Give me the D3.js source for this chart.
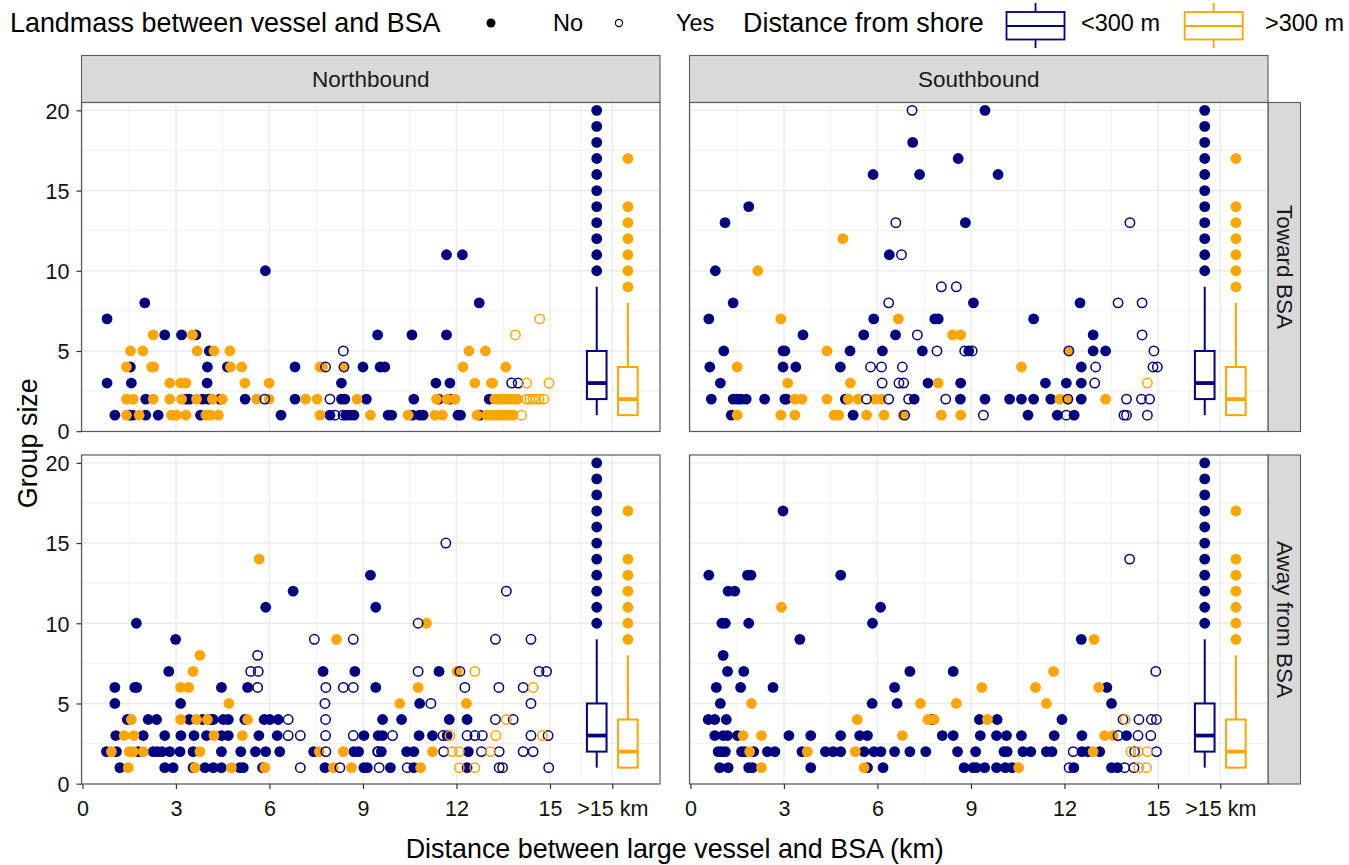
<!DOCTYPE html>
<html><head><meta charset="utf-8">
<script src="https://cdn.jsdelivr.net/npm/d3@7"></script>
<style>body{margin:0;background:#fff}svg{display:block;font-family:"Liberation Sans",Arial,sans-serif}</style>
</head><body><svg id="c" width="1349" height="865"></svg>
<script>
// ---------- data ----------
const xBreaks = [0,3,6,9,12,15,17];
const xLabels = ["0","3","6","9","12","15",">15 km"];
const xMinor = [1.5,4.5,7.5,10.5,13.5,16];
const yBreaks = [0,5,10,15,20];
const yMinor = [2.5,7.5,12.5,17.5];
const directions = ["Northbound","Southbound"];
const headings = ["Toward BSA","Away from BSA"];
const shoreLevels = ["<300 m",">300 m"];
const landLevels = ["No","Yes"];
const shoreColors = ["#000080","#FFA500"];
// boxplots for >15 km (identical in every panel): whisker low, q1, median, q3, whisker high
const boxX = [16.5, 17.5];
const boxStats = [[1,2,3,5,9],[1,1,2,4,8]];
const boxOutliers = [[10,11,12,13,14,15,16,17,18,19,20],[9,10,11,12,13,14,17]];
// points: [distance km, group size, shore (0 <300 m, 1 >300 m), landmass (0 No, 1 Yes)]
const nbToward = [
[0.79,7,0,0],[2.0,8,0,0],[5.87,10,0,0],
[2.27,6,1,0],[2.64,6,0,0],[3.18,6,0,0],[3.53,6,1,0],[3.64,6,0,0],[9.47,6,0,0],
[1.54,5,1,0],[1.94,5,1,0],[3.68,5,1,0],[4.07,5,0,0],[4.22,5,1,0],[4.73,5,1,0],[8.37,5,0,1],
[1.41,4,1,0],[1.54,4,0,0],[2.22,4,1,0],[2.29,4,1,0],[4.01,4,0,0],[4.65,4,0,0],[4.75,4,1,0],[5.11,4,1,0],[6.82,4,0,0],[7.62,4,1,0],[7.7,4,1,0],[7.8,4,0,1],[8.39,4,1,0],[8.39,4,0,1],[9.0,4,0,0],[9.55,4,0,0],[9.7,4,0,0],
[0.79,3,0,0],[1.57,3,0,0],[2.8,3,1,0],[3.15,3,1,0],[3.32,3,1,0],[4.0,3,0,0],[5.21,3,1,0],[5.99,3,1,0],[8.31,3,0,0],
[1.41,2,1,0],[1.63,2,1,0],[2.03,2,0,0],[2.27,2,1,0],[2.8,2,1,0],[3.18,2,1,0],[3.32,2,0,0],[3.43,2,0,0],[3.66,2,1,0],[3.85,2,0,0],[4.03,2,0,0],[4.17,2,1,0],[4.41,2,0,0],[4.49,2,1,0],[5.22,2,0,0],[5.59,2,1,0],[5.85,2,0,1],[5.99,2,1,0],[6.82,2,0,0],[7.16,2,1,0],[7.53,2,1,0],[7.94,2,0,1],[8.31,2,0,0],[8.42,2,0,0],[8.81,2,1,0],[9.11,2,0,0],
[1.04,1,0,0],[1.41,1,1,0],[1.52,1,0,0],[1.61,1,0,0],[1.82,1,1,0],[2.03,1,0,0],[2.43,1,0,0],[2.86,1,1,0],[3.02,1,1,0],[3.32,1,1,0],[3.79,1,0,0],[3.96,1,1,0],[4.11,1,1,0],[4.36,1,1,0],[6.37,1,0,0],[7.62,1,1,0],[7.94,1,0,0],[8.1,1,0,1],[8.36,1,0,1],[8.45,1,0,0],[8.58,1,0,0],[8.71,1,0,0],[9.24,1,1,0],
[11.68,11,0,0],[12.19,11,0,0],[12.73,8,0,0],[14.67,7,1,1],[13.89,6,1,1],
[10.57,6,0,0],[11.68,6,0,0],
[12.4,5,1,0],[12.93,5,1,0],
[12.21,4,1,0],[13.58,4,1,0],
[11.34,3,0,0],[11.79,3,0,0],[12.59,3,1,0],[13.12,3,1,0],[13.16,3,1,0],[13.77,3,0,1],[13.98,3,0,1],[14.25,3,1,1],[14.97,3,1,1],
[10.63,2,0,0],[11.36,2,1,0],[11.43,2,0,0],[11.7,2,1,0],[11.79,2,0,0],[11.95,2,1,0],[13.05,2,0,0],[13.23,2,1,0],[13.35,2,1,0],[13.5,2,1,0],[13.65,2,1,0],[13.8,2,1,0],[13.95,2,1,0],[14.25,2,1,1],[14.35,2,1,1],[14.45,2,1,1],[14.55,2,1,1],[14.65,2,1,1],[14.8,2,1,1],
[9.81,1,0,0],[9.92,1,0,0],[10.45,1,1,0],[10.59,1,0,0],[10.82,1,0,0],[10.93,1,0,0],[11.31,1,1,0],[11.55,1,1,0],[12.05,1,0,0],[12.13,1,0,0],[12.66,1,1,0],[12.75,1,0,0],[12.97,1,1,0],[13.1,1,1,0],[13.25,1,1,0],[13.4,1,1,0],[13.55,1,1,0],[13.7,1,1,0],[13.82,1,1,0],[14.09,1,1,1]
];
const sbToward = [
[7.11,20,0,1],[9.45,20,0,0],[7.13,18,0,0],[8.59,17,0,0],[5.86,16,0,0],[7.35,16,0,0],[9.87,16,0,0],[1.87,14,0,0],[1.11,13,0,0],[6.59,13,0,1],[8.82,13,0,0],[14.1,13,0,1],[4.89,12,1,0],[6.38,11,0,0],[6.77,11,0,1],[0.8,10,0,0],[2.16,10,1,0],[8.05,9,0,1],[8.53,9,0,1],
[1.37,8,0,0],[6.36,8,0,1],[9.08,8,0,0],[12.5,8,0,0],[13.72,8,0,1],[14.49,8,0,1],
[0.59,7,0,0],[2.9,7,1,0],[5.88,7,0,0],[6.67,7,1,0],[7.84,7,0,0],[7.95,7,0,0],[11.01,7,0,0],
[3.61,6,0,0],[5.56,6,0,0],[6.58,6,0,0],[7.28,6,0,1],[8.41,6,1,0],[8.67,6,1,0],[12.92,6,0,0],[14.49,6,0,1],
[1.07,5,0,0],[2.97,5,0,0],[3.03,5,0,0],[4.38,5,1,0],[5.12,5,0,0],[6.16,5,0,0],[7.44,5,0,0],[7.91,5,0,1],[8.8,5,0,1],[8.93,5,0,0],[9.04,5,0,1],[12.14,5,1,0],[12.14,5,0,1],[12.92,5,0,0],[13.32,5,0,0],[14.87,5,0,1],
[0.62,4,0,0],[1.5,4,1,0],[2.97,4,0,0],[3.38,4,0,0],[4.81,4,0,0],[5.78,4,0,1],[6.13,4,0,1],[6.8,4,0,1],[10.62,4,1,0],[12.54,4,0,0],[13.0,4,0,1],[14.84,4,0,1],[14.98,4,0,1],
[0.96,3,0,0],[3.12,3,1,0],[5.13,3,1,0],[6.15,3,0,1],[6.69,3,0,1],[6.84,3,0,1],[7.62,3,0,0],[7.95,3,1,0],[8.67,3,0,0],[11.39,3,0,0],[12.06,3,0,0],[12.54,3,0,0],[12.97,3,0,1],[14.66,3,1,1],
[0.67,2,0,0],[1.37,2,0,0],[1.5,2,0,0],[1.62,2,0,0],[1.79,2,0,0],[2.38,2,0,0],[3.03,2,0,0],[3.08,2,0,0],[3.35,2,1,0],[3.58,2,1,0],[4.38,2,1,0],[4.97,2,0,0],[5.06,2,1,0],[5.38,2,1,0],[5.65,2,0,1],[5.91,2,1,0],[6.13,2,1,0],[6.36,2,0,1],[7.0,2,0,1],[7.18,2,0,0],[8.19,2,0,1],[8.66,2,0,0],[9.45,2,0,0],[10.24,2,0,0],[10.62,2,0,0],[11.01,2,0,0],[11.56,2,0,0],[11.85,2,1,0],[12.11,2,1,0],[12.11,2,0,1],[12.54,2,0,0],[13.32,2,1,0],[13.99,2,0,1],[14.47,2,0,1],[14.73,2,0,1],
[1.31,1,0,0],[1.5,1,1,0],[2.9,1,1,0],[3.35,1,1,0],[4.61,1,1,0],[4.76,1,1,0],[5.22,1,0,0],[5.65,1,1,0],[6.21,1,1,0],[6.82,1,1,0],[6.87,1,0,1],[8.05,1,1,0],[8.67,1,1,0],[9.4,1,0,1],[10.83,1,0,0],[11.77,1,0,0],[12.06,1,0,1],[12.31,1,0,0],[13.91,1,0,1],[13.99,1,0,1],[14.66,1,0,1]
];
const nbAway = [
[5.67,14,1,0],[9.24,13,0,0],[6.76,12,0,0],[5.88,11,0,0],[9.41,11,0,0],[1.73,10,0,0],
[2.99,9,0,0],[7.44,9,0,1],[8.15,9,1,0],[8.69,9,0,1],
[3.77,8,1,0],[5.62,8,0,1],
[2.77,7,0,0],[3.55,7,1,0],[5.4,7,0,1],[5.64,7,0,1],[7.72,7,0,0],[8.74,7,0,0],
[1.04,6,0,0],[1.68,6,0,0],[1.74,6,0,0],[3.15,6,1,0],[3.41,6,1,0],[4.46,6,0,0],[5.3,6,0,0],[5.62,6,0,1],[7.81,6,0,1],[8.37,6,0,1],[8.69,6,0,1],[9.41,6,0,0],
[1.04,5,0,0],[3.15,5,0,0],[4.7,5,1,0],[7.78,5,0,1],
[1.44,4,0,0],[1.57,4,1,0],[2.11,4,0,0],[2.38,4,0,0],[3.15,4,1,0],[3.43,4,0,0],[3.66,4,1,0],[3.85,4,0,0],[4.01,4,1,0],[4.12,4,0,0],[4.2,4,0,0],[4.52,4,0,0],[4.68,4,0,0],[5.21,4,0,0],[5.3,4,1,0],[5.83,4,0,0],[6.01,4,0,0],[6.28,4,0,0],[6.6,4,0,1],[7.8,4,0,1],
[1.07,3,0,0],[1.34,3,1,0],[1.65,3,1,0],[1.95,3,0,0],[2.64,3,0,0],[3.16,3,0,0],[3.58,3,0,0],[3.98,3,0,0],[4.22,3,1,0],[4.46,3,0,0],[4.68,3,0,0],[5.13,3,1,0],[5.66,3,0,0],[6.25,3,0,0],[6.6,3,0,1],[6.99,3,0,1],[7.8,3,0,1],[8.69,3,0,1],[9.03,3,0,0],[9.49,3,0,0],
[0.77,2,0,0],[0.93,2,1,0],[1.09,2,0,0],[1.5,2,1,0],[1.63,2,1,0],[1.79,2,0,0],[1.95,2,1,0],[2.27,2,0,0],[2.4,2,0,0],[2.55,2,0,0],[2.8,2,0,0],[3.13,2,0,0],[3.55,2,0,0],[3.77,2,1,0],[4.46,2,0,0],[5.08,2,0,0],[5.55,2,0,0],[5.88,2,0,0],[6.33,2,0,0],[7.42,2,0,0],[7.6,2,1,0],[7.81,2,0,1],[8.37,2,1,0],[8.71,2,0,0],[8.86,2,0,0],[9.47,2,0,1],
[1.2,1,0,0],[1.47,1,1,0],[2.64,1,0,0],[2.91,1,0,0],[3.55,1,0,0],[3.61,1,1,0],[3.93,1,0,0],[4.2,1,0,0],[4.46,1,0,0],[4.78,1,1,0],[5.05,1,0,0],[5.16,1,0,0],[5.78,1,0,0],[5.85,1,1,0],[6.99,1,0,1],[7.78,1,0,0],[8.05,1,1,0],[8.26,1,0,1],[8.63,1,1,0],[9.03,1,0,0],[9.14,1,0,0],
[11.66,15,0,1],[13.6,12,0,1],[10.77,10,0,1],[11.04,10,1,0],[13.25,9,0,1],[14.39,9,0,1],
[10.77,7,0,1],[11.44,7,0,0],[12.02,7,1,0],[12.11,7,0,1],[12.59,7,1,1],[14.65,7,0,1],[14.89,7,0,1],
[10.77,6,1,0],[12.27,6,0,1],[13.36,6,0,1],[14.14,6,0,1],[14.46,6,1,1],
[10.18,5,1,0],[10.82,5,0,0],[11.18,5,0,1],[12.32,5,1,0],[14.39,5,0,1],
[9.63,4,0,0],[10.24,4,0,0],[11.77,4,0,0],[12.34,4,0,0],[13.25,4,0,1],[13.6,4,1,1],[13.82,4,0,1],
[9.63,3,0,0],[9.95,3,0,1],[10.8,3,0,0],[11.23,3,0,0],[11.57,3,0,1],[11.7,3,0,0],[11.79,3,1,1],[12.34,3,0,1],[12.59,3,0,1],[12.83,3,0,1],[13.26,3,1,1],[14.39,3,0,1],[14.76,3,1,1],[14.94,3,0,1],
[9.49,2,0,1],[9.59,2,0,0],[10.4,2,0,0],[10.63,2,0,0],[11.23,2,1,0],[11.59,2,0,1],[11.87,2,1,1],[12.09,2,1,1],[12.38,2,0,0],[12.8,2,0,1],[13.09,2,1,1],[13.37,2,0,1],[14.14,2,0,1],[14.46,2,0,1],
[9.52,1,0,1],[9.88,1,0,0],[10.42,1,0,1],[10.63,1,0,0],[10.85,1,1,0],[12.09,1,1,1],[12.34,1,0,0],[12.59,1,1,1],[13.37,1,0,1],[13.48,1,0,1],[14.96,1,0,1]
];
const sbAway = [
[2.97,17,0,0],[14.09,14,0,1],
[0.59,13,0,0],[1.83,13,0,0],[1.94,13,0,0],[4.82,13,0,0],
[1.21,12,0,0],[1.42,12,0,0],
[2.92,11,1,0],[6.1,11,0,0],
[1.01,10,0,0],[1.12,10,0,0],[1.87,10,0,0],[5.84,10,0,0],
[3.51,9,0,0],[12.54,9,0,0],[12.95,9,1,0],
[1.05,8,0,0],
[1.19,7,0,0],[1.71,7,0,0],[7.04,7,0,0],[8.43,7,0,0],[11.65,7,1,0],[14.93,7,0,1],
[0.83,6,0,0],[1.61,6,0,0],[2.65,6,0,0],[6.55,6,0,0],[9.35,6,1,0],[11.07,6,1,0],[13.1,6,1,0],[13.36,6,0,0],
[0.96,5,0,0],[1.96,5,1,0],[5.83,5,0,0],[6.63,5,0,0],[7.38,5,1,0],[8.53,5,1,0],[11.42,5,1,0],[13.51,5,0,0],
[0.57,4,0,0],[0.78,4,0,0],[1.15,4,0,0],[5.35,4,1,0],[7.62,4,1,0],[7.75,4,0,0],[7.82,4,1,0],[9.27,4,0,0],[9.53,4,1,0],[9.84,4,0,0],[11.92,4,0,0],[13.88,4,0,1],[13.95,4,1,1],[14.39,4,0,1],[14.79,4,0,1],[14.95,4,0,1],
[0.78,3,0,0],[1.05,3,0,0],[1.19,3,0,0],[1.51,3,0,0],[1.69,3,1,0],[2.28,3,1,0],[3.16,3,0,0],[3.86,3,0,0],[4.82,3,0,0],[5.43,3,0,0],[5.68,3,0,0],[6.8,3,1,0],[8.08,3,0,0],[8.43,3,0,0],[9.3,3,0,0],[9.82,3,0,0],[10.14,3,0,0],[10.62,3,0,0],[11.67,3,0,0],[12.56,3,0,0],[13.29,3,1,0],[13.56,3,1,0],[13.72,3,0,1],[13.99,3,0,0],[14.36,3,0,1],[14.77,3,0,1],
[0.89,2,0,0],[1.0,2,0,0],[1.12,2,0,0],[1.64,2,0,0],[1.74,2,0,0],[1.9,2,1,0],[2.03,2,0,0],[2.47,2,0,0],[2.71,2,0,0],[3.58,2,0,0],[3.75,2,1,0],[4.33,2,0,0],[4.58,2,0,0],[4.82,2,0,0],[5.29,2,1,0],[5.57,2,0,0],[5.89,2,0,0],[6.11,2,0,0],[6.55,2,0,0],[7.04,2,0,0],[7.55,2,0,0],[8.57,2,0,0],[9.15,2,0,0],[10.06,2,0,0],[10.16,2,0,0],[10.67,2,0,0],[10.92,2,0,0],[11.42,2,0,0],[11.6,2,0,0],[12.28,2,0,1],[12.56,2,0,0],[12.76,2,0,0],[12.92,2,1,0],[13.13,2,0,0],[14.13,2,1,1],[14.25,2,0,1],[14.36,2,1,1],[14.66,2,1,1],[14.95,2,0,1],
[0.94,1,0,0],[1.21,1,0,0],[1.87,1,0,0],[1.99,1,0,0],[2.28,1,1,0],[3.86,1,0,0],[5.57,1,1,0],[5.68,1,0,0],[6.18,1,0,0],[8.78,1,0,0],[9.07,1,0,0],[9.17,1,0,0],[9.44,1,0,0],[9.82,1,0,0],[10.1,1,0,0],[10.32,1,0,0],[10.53,1,1,0],[12.15,1,0,1],[12.3,1,0,0],[13.51,1,0,0],[13.7,1,0,0],[13.93,1,0,1],[14.23,1,0,1],[14.38,1,1,1],[14.63,1,1,1]
];
const panelData = [[nbToward, sbToward],[nbAway, sbAway]];

// ---------- layout ----------
const svg = d3.select("#c");
const panelW = 578.5, panelH = 329;
const colX = [81.5, 689.5];
const rowY = [102.5, 455];
const stripTop = 55.5, stripRightW = 32.5;
const x = d3.scaleLinear().domain([-0.03, 18.53]).range([0, panelW]);
const y = d3.scaleLinear().domain([-0.02, 20.49]).range([panelH, 0]);
const fsTick = 21.5, fsStrip = 22.5, fsTitle = 26.9, fsLegend = 23.5;
const gridCol = "#EBEBEB", borderCol = "#5a5a5a";

svg.append("rect").attr("width",1349).attr("height",865).attr("fill","#fff");

// strips on top
directions.forEach((d,c)=>{
  svg.append("rect").attr("x",colX[c]).attr("y",stripTop).attr("width",panelW).attr("height",rowY[0]-stripTop)
    .attr("fill","#D9D9D9").attr("stroke",borderCol).attr("stroke-width",1.1);
  svg.append("text").attr("x",colX[c]+panelW/2).attr("y",(stripTop+rowY[0])/2)
    .attr("text-anchor","middle").attr("dominant-baseline","central")
    .attr("font-size",fsStrip).attr("fill","#1A1A1A").text(d);
});
// strips on right
headings.forEach((h,r)=>{
  const sx = colX[1]+panelW;
  svg.append("rect").attr("x",sx).attr("y",rowY[r]).attr("width",stripRightW).attr("height",panelH)
    .attr("fill","#D9D9D9").attr("stroke",borderCol).attr("stroke-width",1.1);
  svg.append("text").attr("transform",`translate(${sx+stripRightW/2},${rowY[r]+panelH/2}) rotate(90)`)
    .attr("text-anchor","middle").attr("dominant-baseline","central")
    .attr("font-size",fsStrip).attr("fill","#1A1A1A").text(h);
});

function drawBoxes(g){
  const hw = (x(0.63)-x(0))/2;
  boxStats.forEach((s,i)=>{
    const cx = x(boxX[i]), col = shoreColors[i];
    const bg = g.append("g").attr("stroke",col).attr("stroke-width",2).attr("fill","none");
    bg.append("line").attr("x1",cx).attr("x2",cx).attr("y1",y(s[0])).attr("y2",y(s[1]));
    bg.append("line").attr("x1",cx).attr("x2",cx).attr("y1",y(s[3])).attr("y2",y(s[4]));
    bg.append("rect").attr("x",cx-hw).attr("width",2*hw).attr("y",y(s[3])).attr("height",y(s[1])-y(s[3])).attr("fill","#fff");
    bg.append("line").attr("x1",cx-hw).attr("x2",cx+hw).attr("y1",y(s[2])).attr("y2",y(s[2])).attr("stroke-width",3.8);
    g.selectAll(null).data(boxOutliers[i]).enter().append("circle")
      .attr("cx",cx).attr("cy",d=>y(d)).attr("r",5.4).attr("fill",col);
  });
}

function drawPoints(g, data){
  [[0,0],[1,0],[0,1],[1,1]].forEach(([s,l])=>{
    const sub = data.filter(d=>d[2]===s && d[3]===l);
    g.selectAll(null).data(sub).enter().append("circle")
      .attr("cx",d=>x(d[0])).attr("cy",d=>y(d[1]))
      .attr("r", l ? 4.7 : 5.4)
      .attr("fill", l ? "none" : shoreColors[s])
      .attr("stroke", l ? shoreColors[s] : "none")
      .attr("stroke-width", l ? 1.5 : 0);
  });
}

for(let r=0;r<2;r++){
  for(let c=0;c<2;c++){
    const g = svg.append("g").attr("transform",`translate(${colX[c]},${rowY[r]})`);
    g.append("rect").attr("width",panelW).attr("height",panelH).attr("fill","#fff");
    const grid = g.append("g").attr("stroke",gridCol);
    grid.selectAll(null).data(yMinor).enter().append("line")
      .attr("x1",0).attr("x2",panelW).attr("y1",d=>y(d)).attr("y2",d=>y(d)).attr("stroke-width",0.7);
    grid.selectAll(null).data(xMinor).enter().append("line")
      .attr("y1",0).attr("y2",panelH).attr("x1",d=>x(d)).attr("x2",d=>x(d)).attr("stroke-width",0.7);
    grid.selectAll(null).data(yBreaks).enter().append("line")
      .attr("x1",0).attr("x2",panelW).attr("y1",d=>y(d)).attr("y2",d=>y(d)).attr("stroke-width",1.4);
    grid.selectAll(null).data(xBreaks).enter().append("line")
      .attr("y1",0).attr("y2",panelH).attr("x1",d=>x(d)).attr("x2",d=>x(d)).attr("stroke-width",1.4);
    drawPoints(g, panelData[r][c]);
    drawBoxes(g);
    g.append("rect").attr("width",panelW).attr("height",panelH).attr("fill","none")
      .attr("stroke",borderCol).attr("stroke-width",1.2);
    if(c===0){
      const ax = g.append("g").call(d3.axisLeft(y).tickValues(yBreaks).tickSize(5).tickPadding(7));
      ax.select(".domain").remove();
      ax.selectAll("line").attr("stroke","#333").attr("stroke-width",1.2);
      ax.selectAll("text").attr("font-size",fsTick).attr("fill","#111").attr("font-family",null).attr("dy","0.36em");
    }
    if(r===1){
      const ax = g.append("g").attr("transform",`translate(0,${panelH})`)
        .call(d3.axisBottom(x).tickValues(xBreaks).tickFormat((d,i)=>xLabels[i]).tickSize(5).tickPadding(12));
      ax.select(".domain").remove();
      ax.selectAll("line").attr("stroke","#333").attr("stroke-width",1.2);
      ax.selectAll("text").attr("font-size",fsTick).attr("fill","#111").attr("font-family",null);
    }
  }
}

// axis titles
svg.append("text").attr("x",(colX[0]+colX[1]+panelW)/2).attr("y",849)
  .attr("text-anchor","middle").attr("dominant-baseline","central").attr("font-size",fsTitle).attr("fill","#000")
  .text("Distance between large vessel and BSA (km)");
svg.append("text").attr("transform",`translate(28,${(rowY[0]+rowY[1]+panelH)/2}) rotate(-90)`)
  .attr("text-anchor","middle").attr("dominant-baseline","central").attr("font-size",fsTitle).attr("fill","#000")
  .text("Group size");

// legend
const ly = 23;
const leg = svg.append("g");
leg.append("text").attr("x",10).attr("y",ly).attr("dominant-baseline","central").attr("font-size",fsTitle).text("Landmass between vessel and BSA");
leg.append("circle").attr("cx",491).attr("cy",ly).attr("r",4.5).attr("fill","#000");
leg.append("text").attr("x",553).attr("y",ly).attr("dominant-baseline","central").attr("font-size",fsLegend).text(landLevels[0]);
leg.append("circle").attr("cx",619).attr("cy",ly).attr("r",3.6).attr("fill","none").attr("stroke","#000").attr("stroke-width",1.2);
leg.append("text").attr("x",676).attr("y",ly).attr("dominant-baseline","central").attr("font-size",fsLegend).text(landLevels[1]);
leg.append("text").attr("x",743).attr("y",ly).attr("dominant-baseline","central").attr("font-size",fsTitle).text("Distance from shore");
const keyX = [1006.5, 1184.7], keyW = 58, labX = [1081, 1265];
shoreLevels.forEach((s,i)=>{
  const k = leg.append("g").attr("stroke",shoreColors[i]).attr("stroke-width",1.8).attr("fill","none");
  const cx = keyX[i]+keyW/2;
  k.append("line").attr("x1",cx).attr("x2",cx).attr("y1",3).attr("y2",12);
  k.append("line").attr("x1",cx).attr("x2",cx).attr("y1",39.5).attr("y2",48);
  k.append("rect").attr("x",keyX[i]).attr("y",12).attr("width",keyW).attr("height",27.5).attr("fill","#fff");
  k.append("line").attr("x1",keyX[i]).attr("x2",keyX[i]+keyW).attr("y1",26).attr("y2",26);
  leg.append("text").attr("x",labX[i]).attr("y",ly).attr("dominant-baseline","central").attr("font-size",fsLegend).text(s);
});
</script></body></html>
